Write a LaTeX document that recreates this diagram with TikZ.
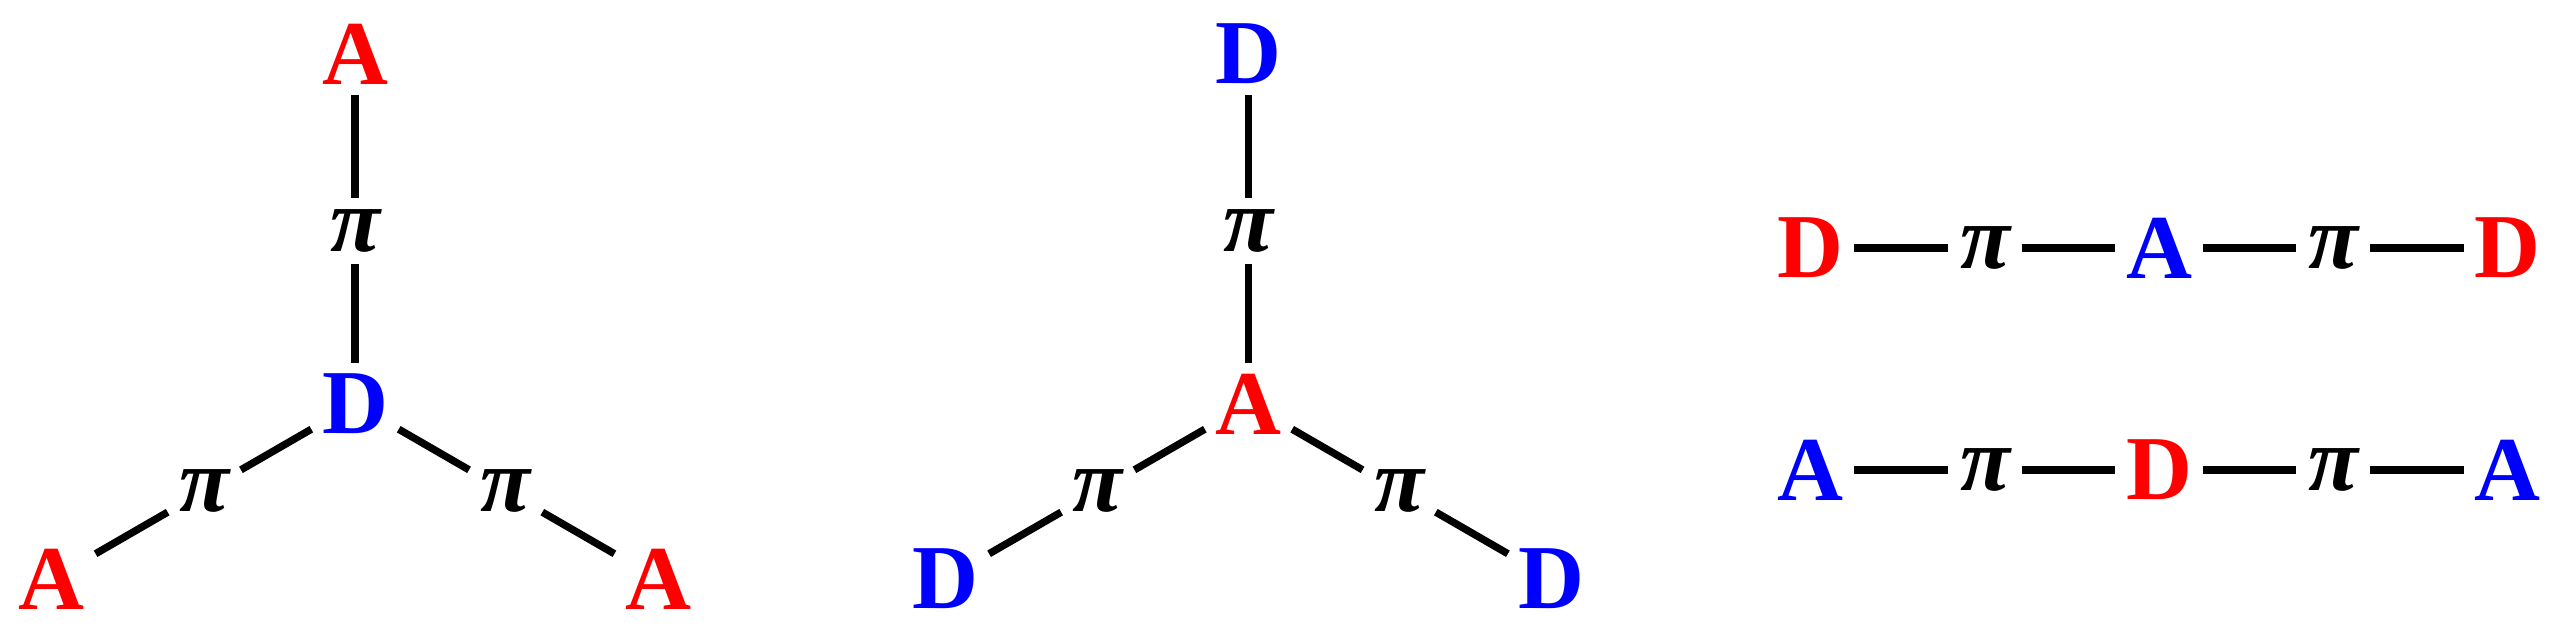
\documentclass[tikz,border=0pt]{standalone}
\usepackage{fontspec}
\setmainfont{Liberation Serif}
\usetikzlibrary{positioning}

\begin{document}
\begin{tikzpicture}[
    unit/.style={font=\bfseries\fontsize{26}{26}\selectfont, inner sep=1mm},
    acc/.style={unit, text=red},
    don/.style={unit, text=blue},
    pibr/.style={font=\bfseries\itshape\fontsize{26}{26}\selectfont, inner sep=1.1mm},
    bond/.style={line width=2.1pt}
]
\useasboundingbox (0,0) rectangle (25.62,6.38);

% donor core, three acceptor arms
\begin{scope}[shift={(3.55,2.34)}]
    \node[don] (lc) at (0,0) {D};
    \node[pibr] (lp1) at (90:1.73) {π};
    \node[pibr] (lp2) at (210:1.74) {π};
    \node[pibr] (lp3) at (330:1.74) {π};
    \node[acc] (la1) at (90:3.50) {A};
    \node[acc] (la2) at (210:3.50) {A};
    \node[acc] (la3) at (330:3.50) {A};
\end{scope}
\draw[bond] (lc) -- (lp1) (lp1) -- (la1);
\draw[bond] (lc) -- (lp2) (lp2) -- (la2);
\draw[bond] (lc) -- (lp3) (lp3) -- (la3);

% acceptor core, three donor arms
\begin{scope}[shift={(12.485,2.34)}]
    \node[acc] (mc) at (0,0) {A};
    \node[pibr] (mp1) at (90:1.73) {π};
    \node[pibr] (mp2) at (210:1.74) {π};
    \node[pibr] (mp3) at (330:1.74) {π};
    \node[don] (md1) at (90:3.50) {D};
    \node[don] (md2) at (210:3.50) {D};
    \node[don] (md3) at (330:3.50) {D};
\end{scope}
\draw[bond] (mc) -- (mp1) (mp1) -- (md1);
\draw[bond] (mc) -- (mp2) (mp2) -- (md2);
\draw[bond] (mc) -- (mp3) (mp3) -- (md3);

% linear chains
\node[acc] (t1) at (18.105,3.90) {D};
\node[pibr] (t2) at (19.85,3.90) {π};
\node[don] (t3) at (21.59,3.90) {A};
\node[pibr] (t4) at (23.33,3.90) {π};
\node[acc] (t5) at (25.075,3.90) {D};
\draw[bond] (t1) -- (t2) -- (t3) -- (t4) -- (t5);

\node[don] (b1) at (18.105,1.68) {A};
\node[pibr] (b2) at (19.85,1.68) {π};
\node[acc] (b3) at (21.59,1.68) {D};
\node[pibr] (b4) at (23.33,1.68) {π};
\node[don] (b5) at (25.075,1.68) {A};
\draw[bond] (b1) -- (b2) -- (b3) -- (b4) -- (b5);
\end{tikzpicture}
\end{document}
